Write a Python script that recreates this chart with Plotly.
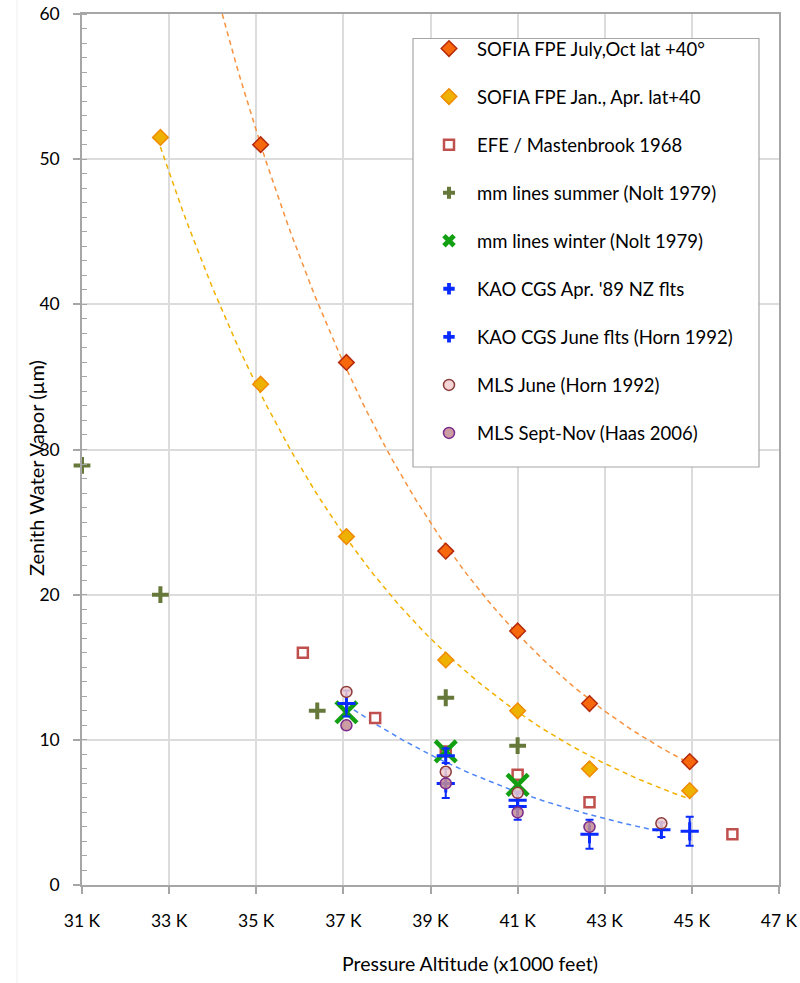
import numpy as np
import plotly.graph_objects as go

# Pressure altitude in thousands of feet, zenith water vapor in microns
SOFIA_SUMMER_X = [35.1, 37.07, 39.35, 41.0, 42.65, 44.95]
SOFIA_SUMMER_Y = [51.0, 36.0, 23.0, 17.5, 12.5, 8.5]

SOFIA_WINTER_X = [32.8, 35.1, 37.07, 39.35, 41.0, 42.65, 44.95]
SOFIA_WINTER_Y = [51.5, 34.5, 24.0, 15.5, 12.0, 8.0, 6.5]

EFE_X = [36.07, 37.73, 39.35, 41.0, 42.65, 45.93]
EFE_Y = [16.0, 11.5, 9.2, 7.6, 5.7, 3.5]

MM_SUMMER_X = [31.0, 32.8, 36.4, 39.35, 41.0]
MM_SUMMER_Y = [28.9, 20.0, 12.0, 12.9, 9.6]

MM_WINTER_X = [37.07, 39.35, 41.0]
MM_WINTER_Y = [11.9, 9.2, 6.9]

KAO_APR_X = [39.35, 41.0, 42.65, 44.95]
KAO_APR_Y = [7.0, 5.4, 3.5, 3.7]
KAO_APR_ERR = [1.0, 0.9, 1.0, 1.0]

KAO_JUNE_X = [37.07, 39.35, 41.0, 44.3]
KAO_JUNE_Y = [12.5, 8.9, 5.84, 3.8]
KAO_JUNE_ERR = [0.9, 0.5, 0.6, 0.5]

MLS_JUNE_X = [37.07, 39.35, 41.0, 44.3]
MLS_JUNE_Y = [13.3, 7.8, 6.35, 4.25]

MLS_FALL_X = [37.07, 39.35, 41.0, 42.65]
MLS_FALL_Y = [11.0, 7.0, 5.0, 4.0]

X_TICKS = [31, 33, 35, 37, 39, 41, 43, 45, 47]
X_TICK_LABELS = ["31 K", "33 K", "35 K", "37 K", "39 K", "41 K", "43 K", "45 K", "47 K"]

FONT = "Lato"
AXIS_GREY = "#A6A6A6"
KAO_BLUE = "#0A2BFF"

# plot-area geometry in pixels (used to place the legend frame and titles)
PLOT_L, PLOT_R, PLOT_T, PLOT_B = 82, 779, 14, 885


def px_to_paper_x(px):
    return (px - PLOT_L) / (PLOT_R - PLOT_L)


def px_to_paper_y(py):
    return (PLOT_B - py) / (PLOT_B - PLOT_T)


def exp_trend(xs, ys, x0, x1, n=120):
    """Least-squares exponential trendline y = a*exp(b*x)."""
    b, ln_a = np.polyfit(np.array(xs), np.log(np.array(ys)), 1)
    xx = np.linspace(x0, x1, n)
    return xx, np.exp(ln_a + b * xx)


fig = go.Figure()

# dashed trendlines (drawn underneath the markers)
for xs, ys, x0, x1, col in [
    (SOFIA_SUMMER_X, SOFIA_SUMMER_Y, 33.5, SOFIA_SUMMER_X[-1], "#F7923F"),
    (SOFIA_WINTER_X, SOFIA_WINTER_Y, SOFIA_WINTER_X[0], SOFIA_WINTER_X[-1], "#F2B100"),
    (KAO_JUNE_X, KAO_JUNE_Y, KAO_JUNE_X[0], KAO_JUNE_X[-1], "#4F86F7"),
]:
    tx, ty = exp_trend(xs, ys, x0, x1)
    fig.add_trace(go.Scatter(
        x=tx, y=ty, mode="lines", showlegend=False, hoverinfo="skip",
        line=dict(color=col, width=1.5, dash="5px,4px"),
    ))

legend_entries = []


def add_series(name, xs, ys, marker, legend_marker=None, err=None):
    tr = go.Scatter(
        x=xs, y=ys, mode="markers", name=name, showlegend=False,
        marker=marker, cliponaxis=False,
    )
    if err is not None:
        tr.error_y = dict(type="data", array=err, visible=True,
                          color=KAO_BLUE, thickness=2, width=4)
    fig.add_trace(tr)
    legend_entries.append((name, legend_marker or marker))


add_series("SOFIA FPE July,Oct lat +40°", SOFIA_SUMMER_X, SOFIA_SUMMER_Y,
           dict(symbol="diamond", size=12, color="#F7680C",
                line=dict(color="#B52A0C", width=1.5)))
add_series("SOFIA FPE Jan., Apr. lat+40", SOFIA_WINTER_X, SOFIA_WINTER_Y,
           dict(symbol="diamond", size=12, color="#EFB100",
                line=dict(color="#F08A00", width=1.5)))
add_series("EFE / Mastenbrook 1968", EFE_X, EFE_Y,
           dict(symbol="square", size=10, color="white",
                line=dict(color="#C0504D", width=2.5)))
add_series("mm lines summer (Nolt 1979)", MM_SUMMER_X, MM_SUMMER_Y,
           dict(symbol="cross-thin", size=12,
                line=dict(color="#66783A", width=4)),
           legend_marker=dict(symbol="cross", size=10, color="#66783A",
                              line=dict(width=0)))
add_series("mm lines winter (Nolt 1979)", MM_WINTER_X, MM_WINTER_Y,
           dict(symbol="x-thin", size=21,
                line=dict(color="#12A012", width=4.5)),
           legend_marker=dict(symbol="x", size=12, color="#12A012",
                              line=dict(width=0)))
add_series("KAO CGS Apr. '89 NZ flts", KAO_APR_X, KAO_APR_Y,
           dict(symbol="cross-thin", size=13,
                line=dict(color=KAO_BLUE, width=3)),
           legend_marker=dict(symbol="cross", size=9.5, color=KAO_BLUE,
                              line=dict(width=0)),
           err=KAO_APR_ERR)
add_series("KAO CGS June flts (Horn 1992)", KAO_JUNE_X, KAO_JUNE_Y,
           dict(symbol="cross-thin", size=13,
                line=dict(color=KAO_BLUE, width=3)),
           legend_marker=dict(symbol="cross", size=9.5, color=KAO_BLUE,
                              line=dict(width=0)),
           err=KAO_JUNE_ERR)
add_series("MLS June (Horn 1992)", MLS_JUNE_X, MLS_JUNE_Y,
           dict(symbol="circle", size=11, color="rgba(242,205,205,0.85)",
                line=dict(color="#8C3A3A", width=1.5)))
add_series("MLS Sept-Nov (Haas 2006)", MLS_FALL_X, MLS_FALL_Y,
           dict(symbol="circle", size=11, color="rgba(196,140,148,0.85)",
                line=dict(color="#7A2A8C", width=1.5)))

# legend-only entries, one group each so the rows are evenly spaced
for name, mk in legend_entries:
    fig.add_trace(go.Scatter(
        x=[None], y=[None], mode="markers", name=name, legendgroup=name,
        marker=mk, showlegend=True, hoverinfo="skip",
    ))

fig.update_layout(
    width=800, height=983,
    margin=dict(l=PLOT_L, r=800 - PLOT_R, t=PLOT_T, b=983 - PLOT_B, autoexpand=False),
    paper_bgcolor="white", plot_bgcolor="white",
    font=dict(family=FONT, size=17, color="#000000"),
    showlegend=True,
    legend=dict(
        x=px_to_paper_x(413), y=px_to_paper_y(30), xanchor="left", yanchor="top",
        bgcolor="rgba(0,0,0,0)", borderwidth=0,
        font=dict(family=FONT, size=18.5, color="#000000"),
        tracegroupgap=21, itemwidth=46, indentation=8,
        traceorder="grouped", itemsizing="trace",
    ),
    xaxis=dict(
        range=[31, 47], tickvals=X_TICKS, ticktext=X_TICK_LABELS,
        showgrid=True, gridcolor="#DCDCDC", gridwidth=1.5,
        zeroline=False, showline=True, linecolor=AXIS_GREY, linewidth=1.5,
        mirror=True, ticks="outside", ticklen=7, tickcolor=AXIS_GREY,
        tickwidth=1.5, ticklabelstandoff=12,
        tickfont=dict(family=FONT, size=17.5, color="#000000"),
    ),
    yaxis=dict(
        range=[0, 60], dtick=10,
        showgrid=True, gridcolor="#DCDCDC", gridwidth=1.5,
        zeroline=False, showline=True, linecolor=AXIS_GREY, linewidth=1.5,
        mirror=True, ticks="outside", ticklen=7, tickcolor=AXIS_GREY,
        tickwidth=1.5, ticklabelstandoff=10,
        tickfont=dict(family=FONT, size=17.5, color="#000000"),
        minor=dict(dtick=1, ticks="inside", ticklen=5, tickcolor=AXIS_GREY,
                   tickwidth=1, showgrid=False),
    ),
    shapes=[
        # light frame edge of the chart area
        dict(type="line", xref="paper", yref="paper",
             x0=px_to_paper_x(17), x1=px_to_paper_x(17),
             y0=px_to_paper_y(990), y1=px_to_paper_y(-5),
             line=dict(color="#EEEEEE", width=1)),
        # legend frame
        dict(type="rect", xref="paper", yref="paper", layer="above",
             x0=px_to_paper_x(413), x1=px_to_paper_x(759),
             y0=px_to_paper_y(467), y1=px_to_paper_y(38.5),
             fillcolor="white", line=dict(color=AXIS_GREY, width=1.2)),
    ],
    annotations=[
        dict(text="Zenith Water Vapor (µm)", textangle=-90,
             xref="paper", yref="paper", x=px_to_paper_x(35.5),
             y=px_to_paper_y(468.5),
             xanchor="center", yanchor="middle", showarrow=False,
             font=dict(family=FONT, size=20, color="#000000")),
        dict(text="Pressure Altitude (x1000 feet)",
             xref="paper", yref="paper", x=px_to_paper_x(470),
             y=px_to_paper_y(963),
             xanchor="center", yanchor="middle", showarrow=False,
             font=dict(family=FONT, size=19.5, color="#000000")),
    ],
)

fig.write_html("out.html")
